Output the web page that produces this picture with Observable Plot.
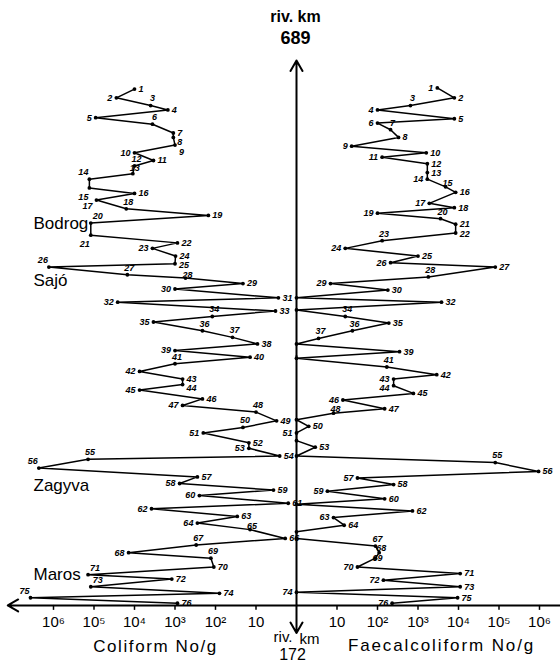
<!DOCTYPE html>
<html><head><meta charset="utf-8">
<script src="https://cdn.jsdelivr.net/npm/d3@7"></script>
<script src="https://cdn.jsdelivr.net/npm/@observablehq/plot@0.6"></script>
<style>
html,body{margin:0;padding:0;background:#fff;}
#chart svg{display:block;}
</style></head><body><div id="chart"></div>
<script>
// Sampling stations 1..76 along the river (river km)
const stations = d3.range(1, 77);

// Left side: Coliform No/g
const coliformKm = [663,655,648,644,637,631,623,619,612,605,
  598,593,586,581,573,568,562,554,548,541,
  530,523,518,511,504,501,494,491,486,481,
  473,469,461,456,451,443,437,431,425,419,
  413,406,399,394,389,381,375,369,361,355,
  350,341,336,329,326,318,310,304,298,293,
  286,281,274,268,262,254,248,241,236,228,
  221,217,210,204,200,195];
const coliform = [1.0e4,2.8e4,4.0e3,1.5e3,9.1e4,3.6e3,1.1e3,1.1e3,1.0e3,1.0e4,
  3.4e3,1.0e4,1.1e4,1.3e5,1.3e5,1.0e4,8.7e4,1.6e4,150,1.2e5,
  1.2e5,870,3.6e3,970,1.0e3,1.3e6,1.5e4,550,21,1.0e3,
  2.8,2.6e4,3.3,120,3.4e3,210,38,9.2,1.0e3,14,
  1.0e3,7.5e3,650,650,7.5e3,210,650,10,3.1,21,
  200,15,15,2.6,1.4e5,2.3e6,280,770,3.7,250,
  1.6,3.8e3,29,280,14,1.9,300,1.4e4,130,110,
  1.4e5,1.2e3,1.2e5,80,3.7e6,870];

// Right side: Faecal coliform No/g
const faecalKm = [664,655,648,644,636,632,626,619,611,605,
  601,595,587,581,574,569,559,555,550,545,
  540,532,525,518,511,505,501,492,486,480,
  473,469,462,456,450,443,436,431,424,418,
  410,403,399,393,386,380,372,368,362,356,
  350,343,337,329,323,315,309,303,297,290,
  285,279,273,266,260,254,247,241,236,228,
  222,216,210,205,200,195];
const faecal = [3.0e3,7.9e3,650,100,7.9e3,100,210,330,23,1.6e3,
  130,1.7e3,1.7e3,1.7e3,4.8e3,8.5e3,1.9e3,7.9e3,100,3.6e3,
  8.5e3,8.5e3,130,16,1.0e3,210,8.1e4,1.8e3,6.9,180,
  1.0,3.8e3,1.0,16,190,24,3.5,1.0,350,1.0,
  170,2.9e3,250,250,770,14,150,8.2,1.0,2.0,
  1.0,1.0,2.9,1.0,8.1e4,9.5e5,32,250,5.8,150,
  1.0,730,8.2,15,1.0,1.0,89,110,89,32,
  1.1e4,140,1.1e4,1.0,9.5e3,230];

// Tributaries
const tributaryNames = ["Bodrog","Sajó","Zagyva","Maros"];
const tributaryKm = [541,489,302,221];

// Axis tick labels (decades)
const leftTickExp = [6,5,4,3,2,1];
const leftTickLabels = ["10⁶","10⁵","10⁴","10³","10²","10"];
const rightTickExp = [1,2,3,4,5,6];
const rightTickLabels = ["10","10²","10³","10⁴","10⁵","10⁶"];

const kmTop = 689, kmBottom = 172, baselineKm = 193;

// ---------- build ----------
const W = 560, H = 663, MT = 60, MB = 35;
const axisPx = 296, pxPerDecade = 40.5;
const xDomain = [-axisPx / pxPerDecade, (W - axisPx) / pxPerDecade];
const pxPerKm = (H - MB - MT) / (kmTop - kmBottom);

const left = stations.map((s, i) => ({station: s, value: coliform[i], km: coliformKm[i], side: -1}));
const right = stations.map((s, i) => ({station: s, value: faecal[i], km: faecalKm[i], side: 1}));
const X = d => d.side * Math.log10(d.value);
const xPx = d => axisPx + X(d) * pxPerDecade;
const yPx = d => MT + (kmTop - d.km) * pxPerKm;
const tribs = tributaryNames.map((n, i) => ({name: n, km: tributaryKm[i]}));
const tribBoxes = tribs.map(t => ({x0: 33, x1: 33 + t.name.length * 9.3, y0: yPx(t) - 8, y1: yPx(t) + 8}));

const charW = 5.5, lineH = 9;
function box(l) {
  const w = String(l.station).length * charW;
  const x0 = l.anchor === "start" ? l.lx : l.anchor === "end" ? l.lx - w : l.lx - w / 2;
  return {x0, x1: x0 + w, y0: l.ly - lineH / 2, y1: l.ly + lineH / 2};
}
const overlaps = (a, b) => a.x0 < b.x1 && b.x0 < a.x1 && a.y0 < b.y1 && b.y0 < a.y1;

function labelsFor(arr) {
  const d = arr.map(p => Math.log10(p.value));
  const out = [];
  arr.forEach((p, i) => {
    const nb = [d[i - 1], d[i + 1]].filter(v => v !== undefined);
    const mx = Math.max(...nb), mn = Math.min(...nb);
    const x = xPx(p), y = yPx(p), side = p.side;
    let L = {station: p.station, side, px: x, py: y};
    const vertRun = nb.length === 2 && Math.abs(d[i] - mx) < 0.05 && Math.abs(d[i] - mn) < 0.05;
    let pos = "mid";
    if (vertRun) pos = "vrun";
    else if (d[i] >= mx && d[i] > mn + 0.1) pos = "out";
    else if (d[i] <= mn + 0.03 && d[i] < mx - 0.1) pos = "in";
    if (side > 0 && pos === "in" && d[i] < 0.1 && Math.log10(coliform[i]) < 1.2) return; // shared label on axis
    const outward = (pos === "out");
    if (pos === "vrun") { L.anchor = "start"; L.lx = x + 4; L.ly = y; }
    else if (pos === "mid") { L.anchor = "middle"; L.lx = x + 2; L.ly = y - 7; }
    else if (side < 0 && outward && d[i] > 5) {
      const prevEq = i > 0 && Math.abs(d[i] - d[i - 1]) < 0.05;
      L.anchor = "end"; L.lx = x - 1; L.ly = prevEq ? y + 9 : y - 7;
      if (tribBoxes.some(b => overlaps(box(L), b))) { L.anchor = "start"; L.lx = x + 2; }
    } else {
      const toRight = (side < 0) !== outward; // left side inward or right side outward
      L.anchor = toRight ? "start" : "end";
      L.lx = toRight ? x + 4 : x - 4; L.ly = y;
    }
    out.push(L);
  });
  // push labels down until they no longer overlap earlier ones
  out.sort((a, b) => a.ly - b.ly);
  const placed = [];
  for (const l of out) {
    let moved = true, guard = 0;
    while (moved && guard++ < 10) {
      moved = false;
      const bl = box(l);
      for (const q of placed) {
        const bq = box(q);
        if (overlaps(bl, bq)) { l.ly = bq.y1 + lineH / 2 + 0.5; moved = true; break; }
      }
    }
    placed.push(l);
  }
  return out;
}
const labels = labelsFor(left).concat(labelsFor(right));
const LX = l => (l.lx - axisPx) / pxPerDecade;
const LY = l => kmTop - (l.ly - MT) / pxPerKm;

const leftTicks = leftTickExp.map((e, i) => ({x: -e, label: leftTickLabels[i]}));
const rightTicks = rightTickExp.map((e, i) => ({x: e, label: rightTickLabels[i]}));
const ticks = leftTicks.concat(rightTicks);

const lblStyle = {fontSize: 9, fontStyle: "italic", fontWeight: "bold", fill: "#000"};
const abs = (txt, px, py, opts) => Plot.text([txt], {text: d => d, frameAnchor: "top-left", dx: px, dy: py - MT, lineAnchor: "middle", textAnchor: "middle", fill: "#000", ...opts});

const chart = Plot.plot({
  width: W, height: H,
  marginTop: MT, marginBottom: MB, marginLeft: 0, marginRight: 0,
  x: {domain: xDomain, axis: null},
  y: {domain: [kmBottom, kmTop], axis: null},
  style: {fontFamily: "'Liberation Sans', Arial, sans-serif", background: "#fff", color: "#000"},
  marks: [
    // baseline (horizontal axis) with left arrow
    Plot.ruleY([baselineKm], {x1: () => 0, x2: () => xDomain[1], stroke: "#000", strokeWidth: 2}),
    Plot.arrow([0], {x1: () => 0, y1: () => baselineKm, x2: () => -7.13, y2: () => baselineKm, stroke: "#000", strokeWidth: 2, headLength: 9}),
    // tick marks and labels
    Plot.ruleX(ticks, {x: "x", y1: () => baselineKm, y2: () => baselineKm - 4.5, stroke: "#000", strokeWidth: 1.5}),
    Plot.text(ticks, {x: "x", y: () => baselineKm, text: "label", dy: 17, fontSize: 15, fill: "#000"}),
    // vertical river-km axis with arrows
    Plot.arrow([0], {x1: () => 0, y1: () => 420, x2: () => 0, y2: () => kmTop, stroke: "#000", strokeWidth: 2, headLength: 9}),
    Plot.arrow([0], {x1: () => 0, y1: () => 420, x2: () => 0, y2: () => kmBottom - 4, stroke: "#000", strokeWidth: 2, headLength: 9}),
    // data
    Plot.line(left, {x: X, y: "km", stroke: "#000", strokeWidth: 1.5}),
    Plot.line(right, {x: X, y: "km", stroke: "#000", strokeWidth: 1.5}),
    Plot.dot(left.concat(right), {x: X, y: "km", r: 1.9, fill: "#000"}),
    // station labels
    Plot.text(labels.filter(l => l.anchor === "end"), {x: LX, y: LY, text: "station", textAnchor: "end", ...lblStyle}),
    Plot.text(labels.filter(l => l.anchor === "start"), {x: LX, y: LY, text: "station", textAnchor: "start", ...lblStyle}),
    Plot.text(labels.filter(l => l.anchor === "middle"), {x: LX, y: LY, text: "station", textAnchor: "middle", ...lblStyle}),
    // tributaries
    Plot.text(tribs, {frameAnchor: "left", y: "km", text: "name", textAnchor: "start", dx: 33, fontSize: 17, fill: "#000"}),
    // titles
    abs("riv. km", 295, 16, {fontSize: 16, fontWeight: "bold"}),
    abs("689", 295, 38, {fontSize: 18, fontWeight: "bold"}),
    abs("riv.", 292, 637, {fontSize: 15, textAnchor: "end"}),
    abs("km", 299, 639, {fontSize: 15, textAnchor: "start"}),
    abs("172", 292, 654, {fontSize: 16}),
    abs("Coliform No/g", 155, 646, {fontSize: 17}),
    abs("Faecalcoliform No/g", 441, 645, {fontSize: 17})
  ]
});
d3.select(chart).selectAll("text").filter(function () { return this.textContent === "Coliform No/g"; }).attr("letter-spacing", "1.6px");
d3.select(chart).selectAll("text").filter(function () { return this.textContent === "Faecalcoliform No/g"; }).attr("letter-spacing", "1.9px");
document.getElementById("chart").appendChild(chart);
</script>
</body></html>
